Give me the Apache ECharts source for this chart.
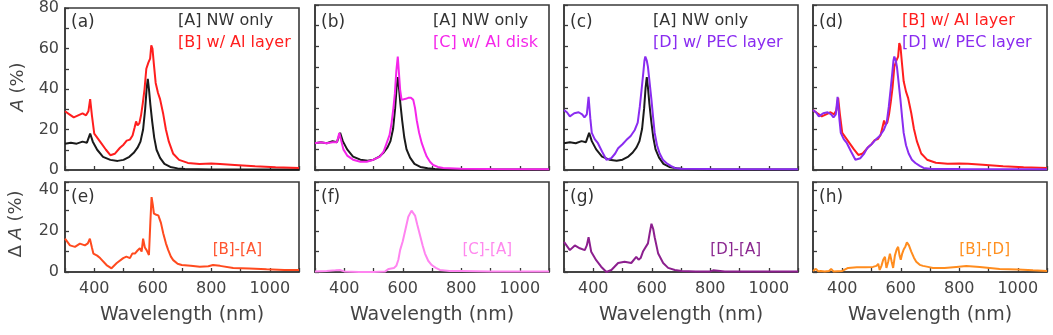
<!DOCTYPE html>
<html><head><meta charset="utf-8">
<script src="https://cdn.jsdelivr.net/npm/echarts@6/dist/echarts.min.js"></script>
<style>html,body{margin:0;padding:0;background:#fff}#c{width:1053px;height:335px}</style>
</head><body><div id="c"></div>
<script>
// ---- Data ----
const wlA = [300,320,340,360,375,386,395,410,430,455,480,500,520,535,548,558,567,574,579,583,587,592,598,605,613,625,640,660,685,710,800,900,1000,1100];
const valA = [13,13.5,13,14,13.5,18,14,10,6.5,5,4.5,5,6.5,8.5,11,14,20,30,40,45,40,32,24,16,10,6,3,1.5,0.8,0.5,0.3,0.3,0.2,0.2];

const wlB = [300,315,330,345,360,372,380,386,392,400,420,440,455,470,488,500,511,522,531,538,543,548,554,560,566,572,578,585,591,595,599,604,610,618,625,636,645,655,670,690,720,760,800,830,880,950,1020,1100];
const valB = [29,27.5,26,27,28,27,29,35,27,18,14,10,7.3,8,11,12.5,14.5,15,17,21,24,22,23,27,33,40,50,53,55,61.5,60,52,43,38,35,27.5,20,14,8,5,3.5,3,3.2,3,2.5,1.8,1.3,1];

const wlC = [300,320,340,360,375,383,390,397,410,430,455,477,500,522,535,545,555,562,568,573,578,583,587,591,596,602,610,619,628,636,642,648,656,665,675,682,693,704,720,738,800,900,1100];
const valC = [13,13.5,13,13.5,13.5,18,14,10,7,5,4,4,5,6.5,9,13,17,23,30,37,48,55,47,39,34,34,34.5,35,35,34,30,24,18,13,9,6.5,4,2.4,1.5,1,0.6,0.5,0.4];

const wlD = [300,310,320,335,350,362,370,378,384,390,395,405,416,430,445,462,475,485,500,513,528,542,552,559,566,571,575,578,583,587,593,599,605,610,618,627,638,650,665,678,700,800,1100];
const valD = [29,28,26,27.5,28,27,25.5,27,35.5,25,18,15,13,9,5,5.7,8,10.5,12.5,14.5,16.5,19.4,23,30.6,40,47,53,55,53,50,42,34,25,18,12,8,5,3.4,2,1,0.6,0.5,0.4];

const wlBA = [300,317,334,351,368,378,385,392,397,410,420,442,459,477,499,510,522,530,539,548,556,562,567,573,579,587,592,596,600,604,612,619,628,636,645,653,662,670,685,699,730,761,790,806,830,875,930,989,1050,1100];
const valBA = [16.3,13,12.3,13.9,13,14,16.3,12,9,8,6.8,3.4,1.8,4.4,6.8,7.5,6.8,9,9,10.5,11.6,10,16.3,12,10.7,8.3,25,36.6,33,28.5,28,27.7,24,18.8,14,10.7,7.5,5.8,4,3.4,3,2.6,2.8,3.4,3,2,1.7,1.3,1,1];

const wlCA = [300,340,370,385,400,450,500,540,552,558,570,578,585,591,600,608,619,630,642,650,659,668,676,687,699,713,727,760,800,900,1000,1100];
const valCA = [0.3,0.5,0.8,1,0.3,0,0,0.3,1.5,2,2,3,6,10.7,15,20,27,30,27.6,23,18,13,9,5.5,3.4,2,1,0.5,0.5,0.3,0.3,0.3];

const wlDA = [300,320,337,354,371,378,384,393,410,427,445,462,485,507,530,547,555,562,570,576,587,593,599,605,610,622,639,656,679,702,750,800,810,850,1000,1100];
const valDA = [14.7,10.7,13,11.6,10.7,13,17,9.9,5.8,2.6,0,1,4.4,5,4.4,7.4,6,6.8,10,9.9,14,19,23.6,21,17,9,4.4,2,1,0.5,0.3,0.3,0.8,0.3,0.2,0.2];

const wlBD = [300,310,318,326,340,355,362,370,400,420,450,480,505,517,523,528,534,540,546,551,557,563,569,574,580,586,591,596,600,605,610,616,621,628,636,645,653,665,676,693,710,750,790,824,870,938,1000,1052,1100];
const valBD = [0.5,1.5,0.3,0.5,0.3,0.5,1.5,0.3,0.5,2,2.3,2.3,2.5,3,4,1,3,6,7.4,2,5,9,5,2,8,11,12.3,8,6,9,11,12.5,14.5,13,10,7,5,3.5,3,2.5,2,2,2.5,2.9,2.5,1.5,1.2,0.8,0.5];

const xTickLabels = [400,600,800,1000];
const topYLabels = [0,20,40,60,80];
const botYLabels = [0,20,40];
const panelLabels = ['(a)','(b)','(c)','(d)','(e)','(f)','(g)','(h)'];

// ---- Layout ----
const FONT = '"DejaVu Sans", sans-serif';
const lefts = [65,315,564,813];
const W = 234;
const topRow = {top:5, height:165};
const botRow = {top:182, height:90};
const colors = {A:'#1a1a1a', B:'#ff1e1e', C:'#f526ea', D:'#8a2cf0', BA:'#ff4a1e', CA:'#ff84f0', DA:'#8c1f8e', BD:'#ff8c1e'};

function zip(w, v){ return w.map((x,i)=>[x, v[i]]); }

const grids = [], xAxes = [], yAxes = [], series = [], graphics = [];
for (let r=0;r<2;r++){
  for (let c=0;c<4;c++){
    const g = r===0?topRow:botRow;
    grids.push({left:lefts[c], top:g.top, width:W, height:g.height, show:true, borderColor:'#3a3a3a', borderWidth:1.6, backgroundColor:'transparent'});
    const gi = grids.length-1;
    xAxes.push({gridIndex:gi, type:'value', min:300, max:1100, interval:100,
      axisLine:{show:true, lineStyle:{color:'#3a3a3a', width:1.6}},
      axisTick:{show:true, inside:true, length:4, lineStyle:{color:'#3a3a3a', width:1.3}},
      axisLabel:{show:r===1, margin:9, color:'#444', fontFamily:FONT, fontSize:16,
        formatter:v=> xTickLabels.includes(v)?String(v):''},
      splitLine:{show:false}});
    yAxes.push({gridIndex:gi, type:'value', min:0, max:r===0?80:44, interval:10,
      axisLine:{show:true, lineStyle:{color:'#3a3a3a', width:1.6}},
      axisTick:{show:true, inside:true, length:4, lineStyle:{color:'#3a3a3a', width:1.3}},
      axisLabel:{show:c===0, margin:6, color:'#444', fontFamily:FONT, fontSize:16,
        formatter:v=> (r===0?topYLabels:botYLabels).includes(v)?String(v):''},
      splitLine:{show:false}});
  }
}

function addLine(gi, w, v, color){
  series.push({type:'line', xAxisIndex:gi, yAxisIndex:gi, data:zip(w,v), showSymbol:false, symbol:'none',
    lineStyle:{color:color, width:2}, itemStyle:{color:color}, smooth:false, animation:false});
}
addLine(0, wlA, valA, colors.A); addLine(0, wlB, valB, colors.B);
addLine(1, wlA, valA, colors.A); addLine(1, wlC, valC, colors.C);
addLine(2, wlA, valA, colors.A); addLine(2, wlD, valD, colors.D);
addLine(3, wlB, valB, colors.B); addLine(3, wlD, valD, colors.D);
addLine(4, wlBA, valBA, colors.BA);
addLine(5, wlCA, valCA, colors.CA);
addLine(6, wlDA, valDA, colors.DA);
addLine(7, wlBD, valBD, colors.BD);

function txt(x,y,text,opt){
  opt = opt||{};
  graphics.push({type:'text', x:x, y:y, rotation:opt.rot||0, z:100,
    style:{text:text, fill:opt.fill||'#333', font:(opt.style||'normal')+' '+(opt.size||16)+'px '+FONT,
      textAlign:opt.align||'left', textVerticalAlign:'middle', rich:opt.rich}});
}
// panel labels
for (let i=0;i<8;i++){
  const c=i%4, r=Math.floor(i/4);
  txt(lefts[c]+6, r===0?23:198, panelLabels[i], {size:17, fill:'#333'});
}
// legends in top panels
txt(lefts[0]+113, 21, '[A] NW only', {fill:'#333'});
txt(lefts[0]+113, 43, '[B] w/ Al layer', {fill:colors.B});
txt(lefts[1]+118, 21, '[A] NW only', {fill:'#333'});
txt(lefts[1]+118, 43, '[C] w/ Al disk', {fill:colors.C});
txt(lefts[2]+89, 21, '[A] NW only', {fill:'#333'});
txt(lefts[2]+89, 43, '[D] w/ PEC layer', {fill:colors.D});
txt(lefts[3]+89, 21, '[B] w/ Al layer', {fill:colors.B});
txt(lefts[3]+89, 43, '[D] w/ PEC layer', {fill:colors.D});
// difference labels
const diffLabels = ['[B]-[A]','[C]-[A]','[D]-[A]','[B]-[D]'];
const diffColors = ['#ff5530','#ff88ee','#8b2890','#ff9020'];
for (let c=0;c<4;c++) txt(lefts[c]+W-37, 250, diffLabels[c], {fill:diffColors[c], align:'right', size:15});
// x titles
for (let c=0;c<4;c++) txt(lefts[c]+W/2, 315, 'Wavelength (nm)', {align:'center', size:19, fill:'#444'});
// y titles
txt(18, 87, '{i|A} (%)', {rot:Math.PI/2, align:'center', size:18, fill:'#444',
  rich:{i:{fontStyle:'italic', fontSize:18, fontFamily:FONT, fill:'#444'}}});
txt(16, 224, 'Δ {i|A} (%)', {rot:Math.PI/2, align:'center', size:18, fill:'#444',
  rich:{i:{fontStyle:'italic', fontSize:18, fontFamily:FONT, fill:'#444'}}});

const chart = echarts.init(document.getElementById('c'), null, {renderer:'canvas'});
chart.setOption({animation:false, grid:grids, xAxis:xAxes, yAxis:yAxes, series:series, graphic:graphics});
</script></body></html>
